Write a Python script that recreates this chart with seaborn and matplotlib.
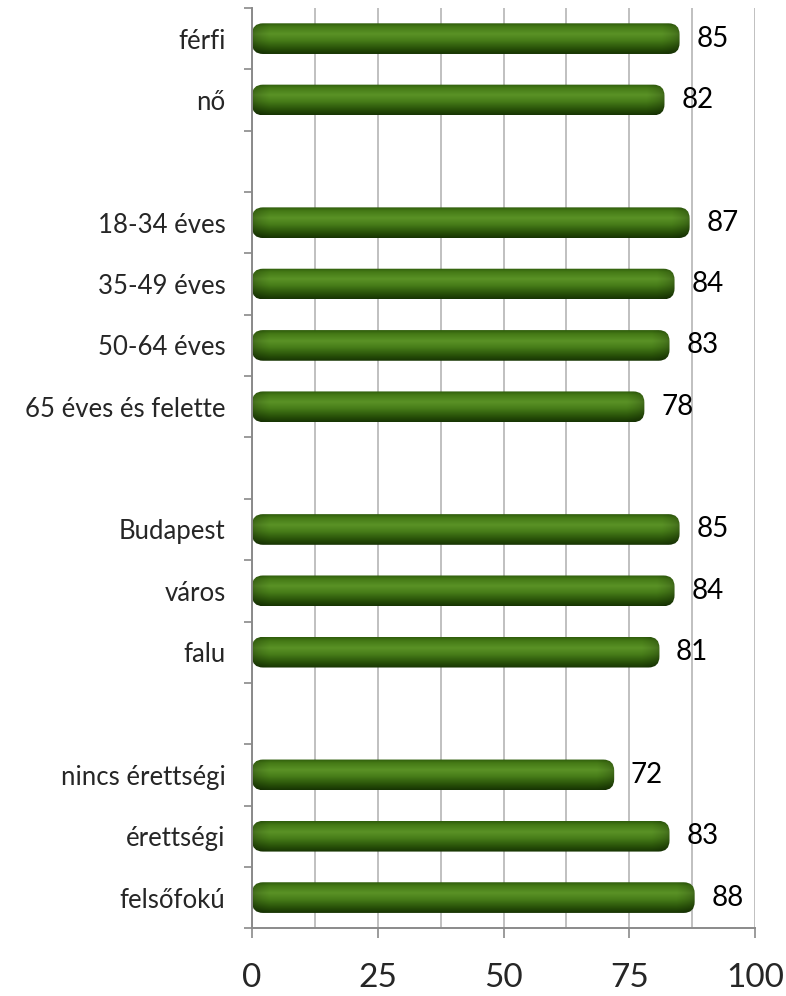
import numpy as np
import pandas as pd
import matplotlib
matplotlib.use("Agg")
import matplotlib.pyplot as plt
import seaborn as sns
from matplotlib.patches import FancyBboxPatch
from matplotlib.colors import to_rgb
from matplotlib.ticker import MultipleLocator, FixedLocator

categories = ["férfi", "nő", "18-34 éves", "35-49 éves", "50-64 éves",
              "65 éves és felette", "Budapest", "város", "falu",
              "nincs érettségi", "érettségi", "felsőfokú"]
values = [85, 82, 87, 84, 83, 78, 85, 84, 81, 72, 83, 88]
row_order = ["férfi", "nő", " ", "18-34 éves", "35-49 éves", "50-64 éves",
             "65 éves és felette", "  ", "Budapest", "város", "falu", "   ",
             "nincs érettségi", "érettségi", "felsőfokú"]
x_ticks = [0, 25, 50, 75, 100]

sns.set_theme(style="white")
plt.rcParams["font.family"] = ["Lato", "DejaVu Sans"]

fig = plt.figure(figsize=(7.86, 9.96), dpi=100)
ax = fig.add_axes([0.3206, 0.068, 0.6400, 0.924])

df = pd.DataFrame({"group": categories, "value": values})
sns.barplot(data=df, x="value", y="group", order=row_order, orient="h",
            width=0.5, color="#3d6e14", ax=ax, errorbar=None)

ax.set_xlim(0, 100)
ax.set_ylim(len(row_order) - 0.5, -0.5)

# gradient profile (top -> bottom)
stops = [(0.0, "#2f5c0c"), (0.12, "#457a16"), (0.35, "#5a9226"),
         (0.55, "#487e19"), (0.8, "#2b550a"), (1.0, "#173403")]
ny = 60
ys = np.linspace(0, 1, ny)
cols = np.array([to_rgb(c) for _, c in stops])
pos = np.array([p for p, _ in stops])
vprof = np.stack([np.interp(ys, pos, cols[:, k]) for k in range(3)], axis=1)

fig.canvas.draw()
bbox = ax.get_window_extent()
px_per_x = bbox.width / 100.0
px_per_y = bbox.height / len(row_order)
asp = px_per_x / px_per_y
r_px = 11
r_x = r_px / px_per_x

for p in list(ax.patches):
    w = p.get_width()
    if not np.isfinite(w) or w <= 0:
        continue
    x0, y0, h = p.get_x(), p.get_y(), p.get_height()
    p.set_visible(False)
    nx = 300
    xs = np.linspace(0, w, nx)
    dist = np.minimum(xs, w - xs)
    hfac = 0.72 + 0.28 * np.clip(dist / (r_x * 1.6), 0, 1) ** 0.6
    img = vprof[:, None, :] * hfac[None, :, None]
    fancy = FancyBboxPatch((x0, y0), w, h,
                           boxstyle=f"round,pad=0,rounding_size={r_x}",
                           mutation_aspect=asp, facecolor="none",
                           edgecolor="none", transform=ax.transData)
    ax.add_patch(fancy)
    im = ax.imshow(np.clip(img, 0, 1), extent=(x0, x0 + w, y0 + h, y0),
                   aspect="auto", origin="upper", zorder=2,
                   interpolation="bilinear")
    im.set_clip_path(fancy)

ax.set_xlim(0, 100)
ax.set_ylim(len(row_order) - 0.5, -0.5)

for c, v in zip(categories, values):
    i = row_order.index(c)
    ax.annotate(str(v), xy=(v, i), xytext=(12, 0), textcoords="offset points",
                ha="left", va="center", fontsize=20, color="black")

ax.set_xlabel("")
ax.set_ylabel("")
ax.xaxis.set_major_locator(FixedLocator(x_ticks))
ax.xaxis.set_minor_locator(MultipleLocator(12.5))
ax.yaxis.set_minor_locator(FixedLocator(np.arange(-0.5, len(row_order), 1.0)))
ax.grid(True, axis="x", which="both", color="#c0c0c0", linewidth=1.4)
ax.grid(False, axis="y")
ax.set_axisbelow(True)

ax.tick_params(axis="x", which="major", length=7, width=1.2, color="#8a8a8a",
               direction="out", labelsize=24, pad=18, bottom=True)
ax.tick_params(axis="x", which="minor", length=0)
ax.tick_params(axis="y", which="major", length=0, labelsize=18.5, pad=19)
ax.tick_params(axis="y", which="minor", length=6, width=1.2, color="#8a8a8a",
               direction="out", left=True)

for s in ["top", "right"]:
    ax.spines[s].set_visible(False)
for s in ["left", "bottom"]:
    ax.spines[s].set_color("#8a8a8a")
    ax.spines[s].set_linewidth(1.4)

fig.savefig("out.png", dpi=100)
